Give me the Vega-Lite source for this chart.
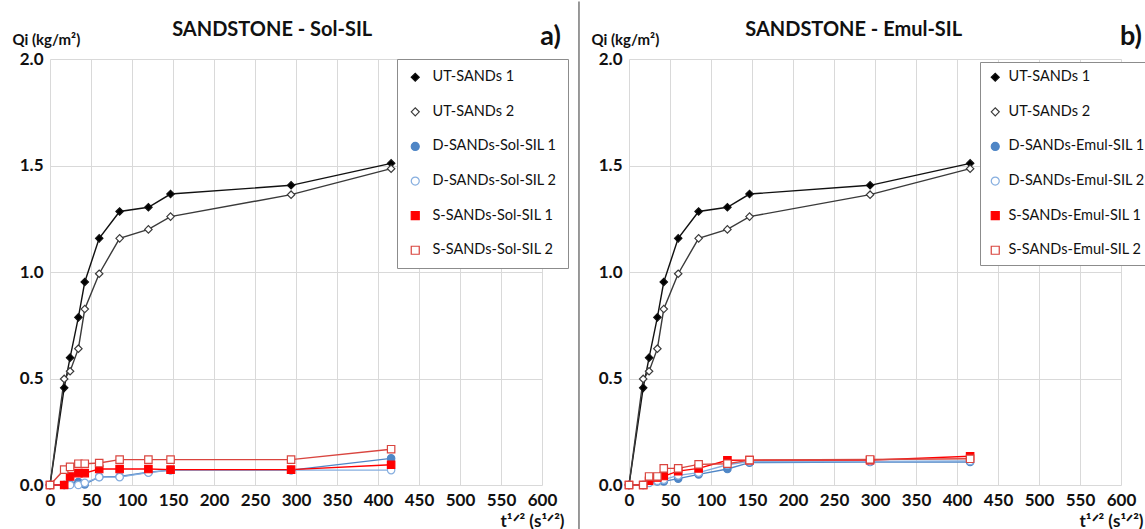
{
  "$schema": "https://vega.github.io/schema/vega-lite/v6.json",
  "background": "white",
  "padding": {"left": 12, "top": 0, "right": 0, "bottom": 0},
  "spacing": 9,
  "config": {
    "font": "Lato",
    "view": {"stroke": null},
    "axis": {"grid": true, "gridColor": "#D9D9D9", "gridWidth": 1, "domain": false, "ticks": false, "labelOverlap": false, "labelFlush": false, "labelFont": "Lato", "labelFontWeight": "bold", "labelFontSize": 17, "labelColor": "#111111", "titleFont": "Lato", "titleFontWeight": "bold", "titleColor": "#111111"},
    "legend": {"orient": "none", "strokeColor": "#8c8c8c", "fillColor": "white", "padding": 11, "labelFont": "Lato", "labelFontSize": 14.5, "labelColor": "#111111", "rowPadding": 19.6, "symbolSize": 64, "symbolStrokeWidth": 1.2, "labelOffset": 10}
  },
  "datasets": {
    "a": [
      {"series": "UT-SANDs 1", "t": 0, "q": 0}, {"series": "UT-SANDs 1", "t": 17.3, "q": 0.456}, {"series": "UT-SANDs 1", "t": 24.5, "q": 0.598}, {"series": "UT-SANDs 1", "t": 34.6, "q": 0.787}, {"series": "UT-SANDs 1", "t": 42.4, "q": 0.953}, {"series": "UT-SANDs 1", "t": 60, "q": 1.158}, {"series": "UT-SANDs 1", "t": 84.9, "q": 1.284}, {"series": "UT-SANDs 1", "t": 120, "q": 1.304}, {"series": "UT-SANDs 1", "t": 147, "q": 1.366}, {"series": "UT-SANDs 1", "t": 294, "q": 1.407}, {"series": "UT-SANDs 1", "t": 416, "q": 1.51},
      {"series": "UT-SANDs 2", "t": 0, "q": 0}, {"series": "UT-SANDs 2", "t": 17.3, "q": 0.498}, {"series": "UT-SANDs 2", "t": 24.5, "q": 0.534}, {"series": "UT-SANDs 2", "t": 34.6, "q": 0.64}, {"series": "UT-SANDs 2", "t": 42.4, "q": 0.826}, {"series": "UT-SANDs 2", "t": 60, "q": 0.992}, {"series": "UT-SANDs 2", "t": 84.9, "q": 1.158}, {"series": "UT-SANDs 2", "t": 120, "q": 1.2}, {"series": "UT-SANDs 2", "t": 147, "q": 1.26}, {"series": "UT-SANDs 2", "t": 294, "q": 1.363}, {"series": "UT-SANDs 2", "t": 416, "q": 1.485},
      {"series": "D-SANDs-Sol-SIL 1", "t": 0, "q": 0}, {"series": "D-SANDs-Sol-SIL 1", "t": 17.3, "q": 0}, {"series": "D-SANDs-Sol-SIL 1", "t": 24.5, "q": 0.005}, {"series": "D-SANDs-Sol-SIL 1", "t": 34.6, "q": 0.014}, {"series": "D-SANDs-Sol-SIL 1", "t": 42.4, "q": 0.003}, {"series": "D-SANDs-Sol-SIL 1", "t": 60, "q": 0.038}, {"series": "D-SANDs-Sol-SIL 1", "t": 84.9, "q": 0.04}, {"series": "D-SANDs-Sol-SIL 1", "t": 120, "q": 0.06}, {"series": "D-SANDs-Sol-SIL 1", "t": 147, "q": 0.07}, {"series": "D-SANDs-Sol-SIL 1", "t": 294, "q": 0.07}, {"series": "D-SANDs-Sol-SIL 1", "t": 416, "q": 0.125},
      {"series": "D-SANDs-Sol-SIL 2", "t": 0, "q": 0}, {"series": "D-SANDs-Sol-SIL 2", "t": 17.3, "q": 0}, {"series": "D-SANDs-Sol-SIL 2", "t": 24.5, "q": 0}, {"series": "D-SANDs-Sol-SIL 2", "t": 34.6, "q": 0}, {"series": "D-SANDs-Sol-SIL 2", "t": 42.4, "q": 0.01}, {"series": "D-SANDs-Sol-SIL 2", "t": 60, "q": 0.037}, {"series": "D-SANDs-Sol-SIL 2", "t": 84.9, "q": 0.037}, {"series": "D-SANDs-Sol-SIL 2", "t": 120, "q": 0.058}, {"series": "D-SANDs-Sol-SIL 2", "t": 147, "q": 0.07}, {"series": "D-SANDs-Sol-SIL 2", "t": 294, "q": 0.07}, {"series": "D-SANDs-Sol-SIL 2", "t": 416, "q": 0.07},
      {"series": "S-SANDs-Sol-SIL 1", "t": 0, "q": 0}, {"series": "S-SANDs-Sol-SIL 1", "t": 17.3, "q": 0}, {"series": "S-SANDs-Sol-SIL 1", "t": 24.5, "q": 0.04}, {"series": "S-SANDs-Sol-SIL 1", "t": 34.6, "q": 0.056}, {"series": "S-SANDs-Sol-SIL 1", "t": 42.4, "q": 0.056}, {"series": "S-SANDs-Sol-SIL 1", "t": 60, "q": 0.075}, {"series": "S-SANDs-Sol-SIL 1", "t": 84.9, "q": 0.075}, {"series": "S-SANDs-Sol-SIL 1", "t": 120, "q": 0.075}, {"series": "S-SANDs-Sol-SIL 1", "t": 147, "q": 0.072}, {"series": "S-SANDs-Sol-SIL 1", "t": 294, "q": 0.072}, {"series": "S-SANDs-Sol-SIL 1", "t": 416, "q": 0.095},
      {"series": "S-SANDs-Sol-SIL 2", "t": 0, "q": 0}, {"series": "S-SANDs-Sol-SIL 2", "t": 17.3, "q": 0.072}, {"series": "S-SANDs-Sol-SIL 2", "t": 24.5, "q": 0.085}, {"series": "S-SANDs-Sol-SIL 2", "t": 34.6, "q": 0.1}, {"series": "S-SANDs-Sol-SIL 2", "t": 42.4, "q": 0.1}, {"series": "S-SANDs-Sol-SIL 2", "t": 60, "q": 0.103}, {"series": "S-SANDs-Sol-SIL 2", "t": 84.9, "q": 0.119}, {"series": "S-SANDs-Sol-SIL 2", "t": 120, "q": 0.119}, {"series": "S-SANDs-Sol-SIL 2", "t": 147, "q": 0.119}, {"series": "S-SANDs-Sol-SIL 2", "t": 294, "q": 0.119}, {"series": "S-SANDs-Sol-SIL 2", "t": 416, "q": 0.168}
    ],
    "b": [
      {"series": "UT-SANDs 1", "t": 0, "q": 0}, {"series": "UT-SANDs 1", "t": 17.3, "q": 0.456}, {"series": "UT-SANDs 1", "t": 24.5, "q": 0.598}, {"series": "UT-SANDs 1", "t": 34.6, "q": 0.787}, {"series": "UT-SANDs 1", "t": 42.4, "q": 0.953}, {"series": "UT-SANDs 1", "t": 60, "q": 1.158}, {"series": "UT-SANDs 1", "t": 84.9, "q": 1.284}, {"series": "UT-SANDs 1", "t": 120, "q": 1.304}, {"series": "UT-SANDs 1", "t": 147, "q": 1.366}, {"series": "UT-SANDs 1", "t": 294, "q": 1.407}, {"series": "UT-SANDs 1", "t": 416, "q": 1.51},
      {"series": "UT-SANDs 2", "t": 0, "q": 0}, {"series": "UT-SANDs 2", "t": 17.3, "q": 0.498}, {"series": "UT-SANDs 2", "t": 24.5, "q": 0.534}, {"series": "UT-SANDs 2", "t": 34.6, "q": 0.64}, {"series": "UT-SANDs 2", "t": 42.4, "q": 0.826}, {"series": "UT-SANDs 2", "t": 60, "q": 0.992}, {"series": "UT-SANDs 2", "t": 84.9, "q": 1.158}, {"series": "UT-SANDs 2", "t": 120, "q": 1.2}, {"series": "UT-SANDs 2", "t": 147, "q": 1.26}, {"series": "UT-SANDs 2", "t": 294, "q": 1.363}, {"series": "UT-SANDs 2", "t": 416, "q": 1.485},
      {"series": "D-SANDs-Emul-SIL 1", "t": 0, "q": 0}, {"series": "D-SANDs-Emul-SIL 1", "t": 17.3, "q": 0}, {"series": "D-SANDs-Emul-SIL 1", "t": 24.5, "q": 0.017}, {"series": "D-SANDs-Emul-SIL 1", "t": 34.6, "q": 0.017}, {"series": "D-SANDs-Emul-SIL 1", "t": 42.4, "q": 0.017}, {"series": "D-SANDs-Emul-SIL 1", "t": 60, "q": 0.03}, {"series": "D-SANDs-Emul-SIL 1", "t": 84.9, "q": 0.05}, {"series": "D-SANDs-Emul-SIL 1", "t": 120, "q": 0.075}, {"series": "D-SANDs-Emul-SIL 1", "t": 147, "q": 0.105}, {"series": "D-SANDs-Emul-SIL 1", "t": 294, "q": 0.108}, {"series": "D-SANDs-Emul-SIL 1", "t": 416, "q": 0.108},
      {"series": "D-SANDs-Emul-SIL 2", "t": 0, "q": 0}, {"series": "D-SANDs-Emul-SIL 2", "t": 17.3, "q": 0}, {"series": "D-SANDs-Emul-SIL 2", "t": 24.5, "q": 0.01}, {"series": "D-SANDs-Emul-SIL 2", "t": 34.6, "q": 0.02}, {"series": "D-SANDs-Emul-SIL 2", "t": 42.4, "q": 0.025}, {"series": "D-SANDs-Emul-SIL 2", "t": 60, "q": 0.045}, {"series": "D-SANDs-Emul-SIL 2", "t": 84.9, "q": 0.058}, {"series": "D-SANDs-Emul-SIL 2", "t": 120, "q": 0.095}, {"series": "D-SANDs-Emul-SIL 2", "t": 147, "q": 0.11}, {"series": "D-SANDs-Emul-SIL 2", "t": 294, "q": 0.11}, {"series": "D-SANDs-Emul-SIL 2", "t": 416, "q": 0.113},
      {"series": "S-SANDs-Emul-SIL 1", "t": 0, "q": 0}, {"series": "S-SANDs-Emul-SIL 1", "t": 17.3, "q": 0}, {"series": "S-SANDs-Emul-SIL 1", "t": 24.5, "q": 0.02}, {"series": "S-SANDs-Emul-SIL 1", "t": 34.6, "q": 0.035}, {"series": "S-SANDs-Emul-SIL 1", "t": 42.4, "q": 0.042}, {"series": "S-SANDs-Emul-SIL 1", "t": 60, "q": 0.065}, {"series": "S-SANDs-Emul-SIL 1", "t": 84.9, "q": 0.078}, {"series": "S-SANDs-Emul-SIL 1", "t": 120, "q": 0.116}, {"series": "S-SANDs-Emul-SIL 1", "t": 147, "q": 0.117}, {"series": "S-SANDs-Emul-SIL 1", "t": 294, "q": 0.117}, {"series": "S-SANDs-Emul-SIL 1", "t": 416, "q": 0.135},
      {"series": "S-SANDs-Emul-SIL 2", "t": 0, "q": 0}, {"series": "S-SANDs-Emul-SIL 2", "t": 17.3, "q": 0}, {"series": "S-SANDs-Emul-SIL 2", "t": 24.5, "q": 0.04}, {"series": "S-SANDs-Emul-SIL 2", "t": 34.6, "q": 0.04}, {"series": "S-SANDs-Emul-SIL 2", "t": 42.4, "q": 0.078}, {"series": "S-SANDs-Emul-SIL 2", "t": 60, "q": 0.078}, {"series": "S-SANDs-Emul-SIL 2", "t": 84.9, "q": 0.097}, {"series": "S-SANDs-Emul-SIL 2", "t": 120, "q": 0.1}, {"series": "S-SANDs-Emul-SIL 2", "t": 147, "q": 0.117}, {"series": "S-SANDs-Emul-SIL 2", "t": 294, "q": 0.12}, {"series": "S-SANDs-Emul-SIL 2", "t": 416, "q": 0.123}
    ]
  },
  "hconcat": [
    {
      "width": 492,
      "height": 426,
      "data": {"name": "a"},
      "layer": [
        {
          "mark": {"type": "line", "strokeWidth": 1.4},
          "encoding": {
            "x": {"field": "t", "type": "quantitative", "scale": {"domain": [0, 600], "nice": false}, "axis": {"values": [0, 50, 100, 150, 200, 250, 300, 350, 400, 450, 500, 550, 600], "format": "d", "labelPadding": 7, "title": "t¹ᐟ² (s¹ᐟ²)", "titleFontSize": 17, "titleAlign": "right", "titleAnchor": null, "titleX": 514, "titleY": 45, "titleBaseline": "bottom"}},
            "y": {"field": "q", "type": "quantitative", "scale": {"domain": [0, 2], "nice": false}, "axis": {"values": [0, 0.5, 1, 1.5, 2], "format": ".1f", "labelPadding": 7, "title": "Qi (kg/m²)", "titleFontSize": 15, "titleAngle": 0, "titleAlign": "left", "titleBaseline": "middle", "titleX": -38, "titleY": -20}},
            "stroke": {"field": "series", "type": "nominal", "scale": {"domain": ["UT-SANDs 1", "UT-SANDs 2", "D-SANDs-Sol-SIL 1", "D-SANDs-Sol-SIL 2", "S-SANDs-Sol-SIL 1", "S-SANDs-Sol-SIL 2"], "range": ["#111111", "#3a3a3a", "#4F86C6", "#86AEDF", "#FF0000", "#D9453F"]}, "legend": {"title": null, "legendX": 347, "legendY": 0}}
          }
        },
        {
          "mark": {"type": "point", "opacity": 1, "strokeWidth": 1.2, "size": 55},
          "encoding": {
            "x": {"field": "t", "type": "quantitative"},
            "y": {"field": "q", "type": "quantitative"},
            "stroke": {"field": "series", "type": "nominal", "legend": {"title": null, "legendX": 347, "legendY": 0}},
            "shape": {"field": "series", "type": "nominal", "scale": {"domain": ["UT-SANDs 1", "UT-SANDs 2", "D-SANDs-Sol-SIL 1", "D-SANDs-Sol-SIL 2", "S-SANDs-Sol-SIL 1", "S-SANDs-Sol-SIL 2"], "range": ["diamond", "diamond", "circle", "circle", "square", "square"]}, "legend": {"title": null, "legendX": 347, "legendY": 0}},
            "fill": {"field": "series", "type": "nominal", "scale": {"domain": ["UT-SANDs 1", "UT-SANDs 2", "D-SANDs-Sol-SIL 1", "D-SANDs-Sol-SIL 2", "S-SANDs-Sol-SIL 1", "S-SANDs-Sol-SIL 2"], "range": ["#000000", "#ffffff", "#4F86C6", "#ffffff", "#FF0000", "#ffffff"]}, "legend": {"title": null, "legendX": 347, "legendY": 0}}
          }
        },
        {
          "data": {"values": [{"label": "a)"}]},
          "mark": {"type": "text", "font": "Lato", "fontSize": 27, "fontWeight": "bold", "align": "right", "baseline": "middle", "dx": 19, "dy": -22, "color": "#111111"},
          "encoding": {"x": {"datum": 600, "type": "quantitative"}, "y": {"datum": 2, "type": "quantitative"}, "text": {"field": "label"}}
        },
        {
          "data": {"values": [{"label": "SANDSTONE - Sol-SIL"}]},
          "mark": {"type": "text", "font": "Lato", "fontSize": 20, "fontWeight": "bold", "align": "center", "baseline": "middle", "dy": -29, "color": "#111111"},
          "encoding": {"x": {"datum": 271, "type": "quantitative"}, "y": {"datum": 2, "type": "quantitative"}, "text": {"field": "label"}}
        }
      ]
    },
    {
      "width": 492,
      "height": 426,
      "data": {"name": "b"},
      "layer": [
        {
          "data": {"values": [{"d": 1}]},
          "mark": {"type": "rule", "color": "#555555", "strokeWidth": 1.2},
          "encoding": {"x": {"datum": -61, "type": "quantitative"}, "y": {"datum": 2.27, "type": "quantitative"}, "y2": {"datum": -0.25}}
        },
        {
          "mark": {"type": "line", "strokeWidth": 1.4},
          "encoding": {
            "x": {"field": "t", "type": "quantitative", "scale": {"domain": [0, 600], "nice": false}, "axis": {"values": [0, 50, 100, 150, 200, 250, 300, 350, 400, 450, 500, 550, 600], "format": "d", "labelPadding": 7, "title": "t¹ᐟ² (s¹ᐟ²)", "titleFontSize": 17, "titleAlign": "right", "titleAnchor": null, "titleX": 514, "titleY": 45, "titleBaseline": "bottom"}},
            "y": {"field": "q", "type": "quantitative", "scale": {"domain": [0, 2], "nice": false}, "axis": {"values": [0, 0.5, 1, 1.5, 2], "format": ".1f", "labelPadding": 7, "title": "Qi (kg/m²)", "titleFontSize": 15, "titleAngle": 0, "titleAlign": "left", "titleBaseline": "middle", "titleX": -38, "titleY": -20}},
            "stroke": {"field": "series", "type": "nominal", "scale": {"domain": ["UT-SANDs 1", "UT-SANDs 2", "D-SANDs-Emul-SIL 1", "D-SANDs-Emul-SIL 2", "S-SANDs-Emul-SIL 1", "S-SANDs-Emul-SIL 2"], "range": ["#111111", "#3a3a3a", "#4F86C6", "#86AEDF", "#FF0000", "#D9453F"]}, "legend": {"title": null, "legendX": 351, "legendY": 3, "padding": 8, "labelOffset": 6}}
          }
        },
        {
          "mark": {"type": "point", "opacity": 1, "strokeWidth": 1.2, "size": 55},
          "encoding": {
            "x": {"field": "t", "type": "quantitative"},
            "y": {"field": "q", "type": "quantitative"},
            "stroke": {"field": "series", "type": "nominal", "legend": {"title": null, "legendX": 351, "legendY": 3, "padding": 8, "labelOffset": 6}},
            "shape": {"field": "series", "type": "nominal", "scale": {"domain": ["UT-SANDs 1", "UT-SANDs 2", "D-SANDs-Emul-SIL 1", "D-SANDs-Emul-SIL 2", "S-SANDs-Emul-SIL 1", "S-SANDs-Emul-SIL 2"], "range": ["diamond", "diamond", "circle", "circle", "square", "square"]}, "legend": {"title": null, "legendX": 351, "legendY": 3, "padding": 8, "labelOffset": 6}},
            "fill": {"field": "series", "type": "nominal", "scale": {"domain": ["UT-SANDs 1", "UT-SANDs 2", "D-SANDs-Emul-SIL 1", "D-SANDs-Emul-SIL 2", "S-SANDs-Emul-SIL 1", "S-SANDs-Emul-SIL 2"], "range": ["#000000", "#ffffff", "#4F86C6", "#ffffff", "#FF0000", "#ffffff"]}, "legend": {"title": null, "legendX": 351, "legendY": 3, "padding": 8, "labelOffset": 6}}
          }
        },
        {
          "data": {"values": [{"label": "b)"}]},
          "mark": {"type": "text", "font": "Lato", "fontSize": 27, "fontWeight": "bold", "align": "right", "baseline": "middle", "dx": 21, "dy": -22, "color": "#111111"},
          "encoding": {"x": {"datum": 600, "type": "quantitative"}, "y": {"datum": 2, "type": "quantitative"}, "text": {"field": "label"}}
        },
        {
          "data": {"values": [{"label": "SANDSTONE - Emul-SIL"}]},
          "mark": {"type": "text", "font": "Lato", "fontSize": 20, "fontWeight": "bold", "align": "center", "baseline": "middle", "dy": -29, "color": "#111111"},
          "encoding": {"x": {"datum": 274, "type": "quantitative"}, "y": {"datum": 2, "type": "quantitative"}, "text": {"field": "label"}}
        }
      ]
    }
  ],
  "resolve": {
    "scale": {"x": "independent", "y": "independent", "fill": "independent", "stroke": "independent", "shape": "independent"},
    "legend": {"fill": "independent", "stroke": "independent", "shape": "independent"}
  }
}
